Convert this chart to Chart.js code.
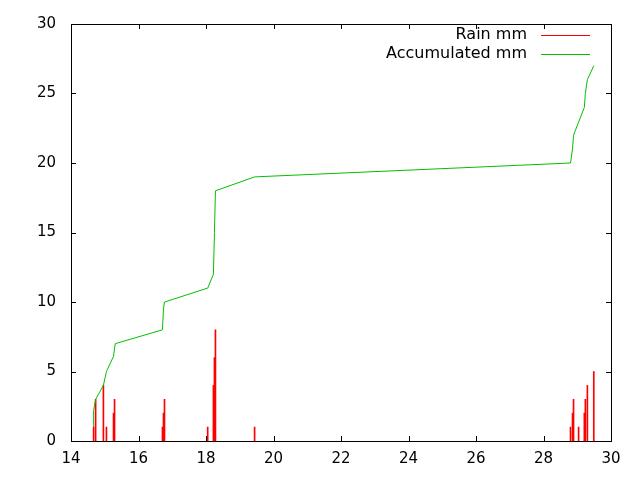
<!DOCTYPE html>
<html lang="en">

<head>
    <meta charset="UTF-8">
    <title>Rain mm</title>
    <script src="https://cdn.jsdelivr.net/npm/chart.js@4.4.0/dist/chart.umd.min.js"></script>
    <style>
        body {
            margin: 0;
            background: #fff;
        }

        #rainChart {
            display: block;
        }
    </style>
</head>

<body>
    <canvas id="rainChart" width="640" height="480"></canvas>

    <script>
        // rain per reading (day of month, mm)
        const rainDays = [14.67, 14.73, 14.96, 15.05, 15.26, 15.29, 16.71, 16.74, 16.77, 18.05, 18.22, 18.25, 18.28, 19.44,
            28.80, 28.86, 28.89, 29.04, 29.21, 29.24, 29.30, 29.49];
        const rainMm = [1, 3, 4, 1, 2, 3, 1, 2, 3, 1, 4, 6, 8, 1,
            1, 2, 3, 1, 2, 3, 4, 5];

        // running total
        const accDays = [14.67, 14.67, 14.73, 14.96, 15.05, 15.26, 15.31, 16.71, 16.74, 16.77, 18.05, 18.22, 18.25, 18.28,
            19.44, 28.80, 28.86, 28.89, 29.21, 29.24, 29.30, 29.49];
        const accMm = [1, 2.2, 3, 4, 5, 6.1, 7, 8, 9.5, 10, 11, 12, 15, 18,
            19, 20, 21, 22, 24, 25, 26, 27];

        const xTicks = [14, 16, 18, 20, 22, 24, 26, 28, 30];
        const yTicks = [0, 5, 10, 15, 20, 25, 30];

        const FONT = 'DejaVu Sans';
        const RED = '#ff0000';
        const GREEN = '#00c000';

        // gnuplot style frame: border + ticks pointing inward on all sides
        const framePlugin = {
            id: 'frame',
            beforeDatasetsDraw(chart) {
                const { ctx, chartArea: a, scales } = chart;
                const len = 5;
                ctx.save();
                ctx.strokeStyle = '#000';
                ctx.lineWidth = 1;
                ctx.beginPath();
                xTicks.forEach(v => {
                    const px = Math.round(scales.x.getPixelForValue(v)) + 0.5;
                    ctx.moveTo(px, a.bottom);
                    ctx.lineTo(px, a.bottom - len);
                    ctx.moveTo(px, a.top);
                    ctx.lineTo(px, a.top + len);
                });
                yTicks.forEach(v => {
                    const py = Math.round(scales.y.getPixelForValue(v)) + 0.5;
                    ctx.moveTo(a.left, py);
                    ctx.lineTo(a.left + len, py);
                    ctx.moveTo(a.right, py);
                    ctx.lineTo(a.right - len, py);
                });
                ctx.stroke();
                ctx.strokeRect(Math.round(a.left) + 0.5, Math.round(a.top) + 0.5,
                    Math.round(a.right - a.left), Math.round(a.bottom - a.top));
                ctx.restore();
            },
            afterDraw(chart) {
                // key in the top right corner, text then sample line
                const ctx = chart.ctx;
                ctx.save();
                ctx.font = '16px "' + FONT + '"';
                ctx.textAlign = 'right';
                ctx.textBaseline = 'middle';
                chart.data.datasets.forEach((ds, i) => {
                    const y = 35 + i * 18.5;
                    ctx.fillStyle = '#000';
                    ctx.fillText(ds.label, 527, y);
                    ctx.strokeStyle = ds.borderColor;
                    ctx.lineWidth = 1;
                    ctx.beginPath();
                    ctx.moveTo(541, Math.round(y) + 0.5);
                    ctx.lineTo(590, Math.round(y) + 0.5);
                    ctx.stroke();
                });
                ctx.restore();
            }
        };

        const ctx = document.getElementById('rainChart').getContext('2d');
        const rainChart = new Chart(ctx, {
            type: 'line',
            data: {
                datasets: [{
                    type: 'bar',
                    label: 'Rain mm',
                    data: rainDays.map((d, i) => ({ x: d, y: rainMm[i] })),
                    backgroundColor: RED,
                    borderColor: RED,
                    borderWidth: 0,
                    barThickness: 1,
                    grouped: false,
                    order: 1
                }, {
                    type: 'line',
                    label: 'Accumulated mm',
                    data: accDays.map((d, i) => ({ x: d, y: accMm[i] })),
                    borderColor: GREEN,
                    borderWidth: 1,
                    pointRadius: 0,
                    tension: 0,
                    fill: false,
                    order: 0
                }]
            },
            options: {
                responsive: false,
                animation: false,
                devicePixelRatio: 1,
                layout: {
                    padding: { top: 22, right: 29, left: 0, bottom: 0 }
                },
                plugins: {
                    legend: { display: false },
                    tooltip: { enabled: false }
                },
                scales: {
                    x: {
                        type: 'linear',
                        min: 14,
                        max: 30,
                        offset: false,
                        afterFit: s => { s.height = 39; },
                        afterBuildTicks: s => { s.ticks = xTicks.map(v => ({ value: v })); },
                        grid: { display: false, drawTicks: false },
                        border: { display: false },
                        ticks: {
                            padding: 9,
                            color: '#000',
                            maxRotation: 0,
                            font: { family: FONT, size: 15 }
                        }
                    },
                    y: {
                        type: 'linear',
                        min: 0,
                        max: 30,
                        afterFit: s => { s.width = 71; },
                        afterBuildTicks: s => { s.ticks = yTicks.map(v => ({ value: v })); },
                        grid: { display: false, drawTicks: false },
                        border: { display: false },
                        ticks: {
                            padding: 15,
                            color: '#000',
                            font: { family: FONT, size: 15 }
                        }
                    }
                }
            },
            plugins: [framePlugin]
        });
    </script>
</body>

</html>
